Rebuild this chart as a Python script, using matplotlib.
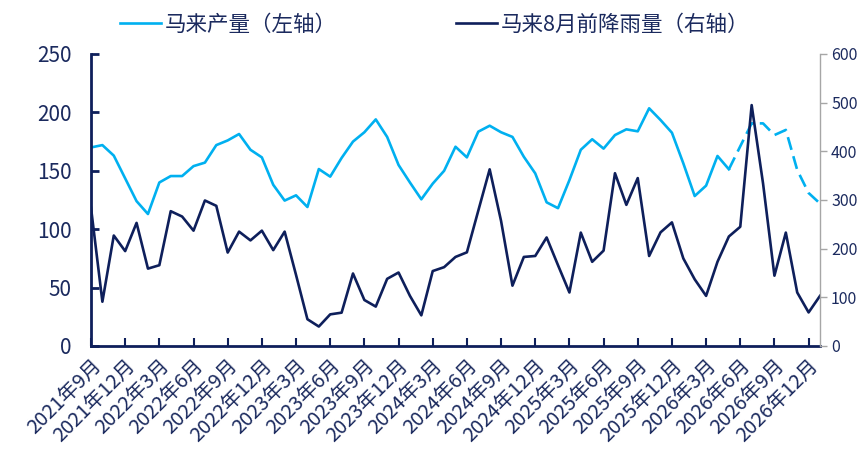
import numpy as np
import matplotlib
matplotlib.use('Agg')
import matplotlib.pyplot as plt

plt.rcParams['font.family'] = ['Noto Sans CJK SC', 'DejaVu Sans']

# monthly, 2021-09 .. 2027-01
production = [170, 172, 163, 143.5, 124, 113, 140, 145.5, 145.5, 154,
              157, 172, 176, 181.5, 168, 161.5, 138, 124.5, 129, 119,
              151.5, 145, 161, 175, 183, 194, 179, 155, 140, 125.6,
              139, 150, 170.6, 161.5, 183.5, 188.6, 183, 179, 162, 147.8,
              123, 118, 142, 168, 177, 169, 180.6, 185.5, 183.8, 203.5,
              193.5, 182.6, 156.4, 128.4, 137.3, 162.7, 151.3, 171, 190.6, 190.6,
              180.6, 185, 150.7, 131, 122]
rainfall = [284, 91, 227, 195, 253, 159, 166, 277, 266, 237,
            299, 288, 192, 235, 217, 237, 197, 235, 146, 55,
            40, 65, 68.5, 149, 94.5, 81, 138, 151, 103, 63,
            154, 162, 183, 192.5, 278, 363, 257, 124, 183, 185,
            223, 166, 110, 233, 173, 196, 355, 290, 345, 185,
            233.5, 254, 180, 137, 103, 173, 225, 245, 495, 334,
            144.5, 233, 110, 69, 103]
forecast_start = 56  # production dashed from here on

tick_labels = ['2021年9月', '2021年12月',
               '2022年3月', '2022年6月', '2022年9月', '2022年12月',
               '2023年3月', '2023年6月', '2023年9月', '2023年12月',
               '2024年3月', '2024年6月', '2024年9月', '2024年12月',
               '2025年3月', '2025年6月', '2025年9月', '2025年12月',
               '2026年3月', '2026年6月', '2026年9月', '2026年12月']

light = '#00B0F0'
dark = '#0E1F5B'
txt = '#1B2A5E'

x = np.arange(len(production))
prod = np.array(production)

fig = plt.figure(figsize=(8.68, 4.57), dpi=100)
ax = fig.add_axes([91/868, 1-346/457, (820-91)/868, (346-54)/457])
ax2 = ax.twinx()

l1, = ax.plot(x[:forecast_start+1], prod[:forecast_start+1], color=light, lw=1.9)
ax.plot(x[forecast_start:], prod[forecast_start:], color=light, lw=1.9, dashes=(5, 2.5))
l2, = ax2.plot(x, rainfall, color=dark, lw=1.9)

ax.set_xlim(0, len(production)-1)
ax.set_ylim(0, 250)
ax.set_yticks(np.arange(0, 251, 50))
ax2.set_ylim(0, 600)
ax2.set_yticks(np.arange(0, 601, 100))

ax.set_xticks(np.arange(0, len(tick_labels)*3, 3))
ax.set_xticklabels(tick_labels, rotation=45, ha='right', va='top',
                   rotation_mode='anchor', fontsize=14.5, color=txt)

for s in ['top']:
    ax.spines[s].set_visible(False)
    ax2.spines[s].set_visible(False)
ax.spines['right'].set_visible(False)
ax2.spines['left'].set_visible(False)
ax2.spines['bottom'].set_visible(False)
ax.spines['left'].set_color(dark)
ax.spines['left'].set_linewidth(2)
ax.spines['bottom'].set_color(dark)
ax.spines['bottom'].set_linewidth(2)
ax2.spines['right'].set_color('#A6A6A6')
ax2.spines['right'].set_linewidth(1)

ax.tick_params(axis='y', direction='in', length=6, width=2, color=dark,
               labelsize=15, labelcolor=txt, pad=14)
ax.tick_params(axis='x', direction='in', length=6, width=1.5, color=dark, pad=7)
ax2.tick_params(axis='y', direction='out', length=5, width=1, color='#A6A6A6',
                labelsize=11.5, labelcolor=txt, pad=3)

leg_y = 1 - 25/457
fig.legend([l1], ['马来产量（左轴）'], loc='center left', bbox_to_anchor=(120/868, leg_y),
           frameon=False, fontsize=15.5, labelcolor=txt, borderpad=0, borderaxespad=0,
           handlelength=1.9, handletextpad=0.2)
fig.legend([l2], ['马来8月前降雨量（右轴）'], loc='center left', bbox_to_anchor=(456/868, leg_y),
           frameon=False, fontsize=15.5, labelcolor=txt, borderpad=0, borderaxespad=0,
           handlelength=1.9, handletextpad=0.2)

fig.savefig('out.png', dpi=100)
